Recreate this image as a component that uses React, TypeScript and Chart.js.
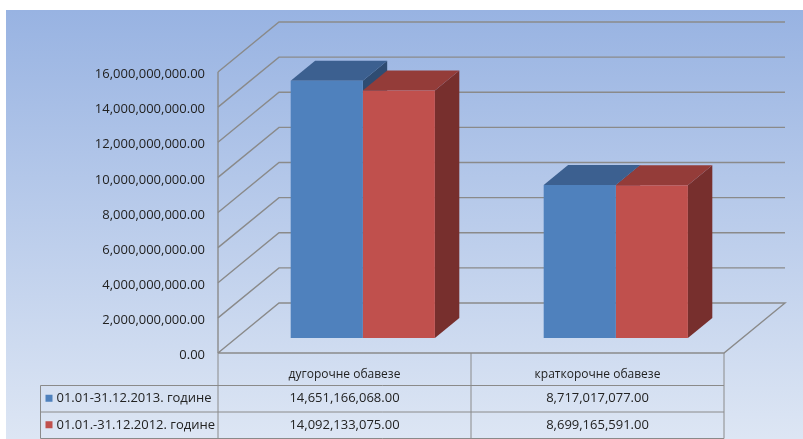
import { useEffect, useRef } from 'react';
import { Chart, registerables } from 'chart.js';

Chart.register(...registerables);

// ---- data ----
const categories = ['дугорочне обавезе', 'краткорочне обавезе'];
const seriesNames = ['01.01-31.12.2013. године', '01.01.-31.12.2012. године'];
const values2013 = [14651166068.0, 8717017077.0];
const values2012 = [14092133075.0, 8699165591.0];
const yMin = 0;
const yMax = 16000000000;
const yStep = 2000000000;

// ---- styles / geometry ----
const W = 803;
const H = 439;
const FRONT_COLORS = ['#4f81bd', '#c0504d'];
const TOP_COLORS = ['#3c6090', '#943c39'];
const SIDE_COLORS = ['#2f4c72', '#772f2d'];
const GRID = '#8a8a8a';
const TEXT = '#222222';
const FONT = '"Open Sans", sans-serif';
// wall depth, bars sit between 30% and 70% of depth
const WALL_DX = 61;
const WALL_DY = 50;
const FX = -0.3 * WALL_DX;
const FY = 0.3 * WALL_DY;
const BX = 0.7 * WALL_DX;
const BY = -0.7 * WALL_DY;
const BAR_DX = 0.4 * WALL_DX;
const BAR_DY = 0.4 * WALL_DY;

const fmt = (v: number) =>
  v.toLocaleString('en-US', { minimumFractionDigits: 2, maximumFractionDigits: 2 });

const excel3d = {
  id: 'excel3d',
  beforeDraw(chart: any) {
    const { ctx } = chart;
    ctx.save();
    ctx.fillStyle = '#ffffff';
    ctx.fillRect(0, 0, W, H);
    const g = ctx.createLinearGradient(0, 10, 0, H);
    g.addColorStop(0, '#98b3e2');
    g.addColorStop(1, '#dde6f4');
    ctx.fillStyle = g;
    ctx.fillRect(6, 10, W - 6, H - 10);
    ctx.restore();
  },
  beforeDatasetsDraw(chart: any) {
    const { ctx, chartArea: ca, scales } = chart;
    const ys = scales.y;
    const fl = ca.left + FX;
    const fr = ca.right + FX;
    const bl = ca.left + BX;
    const br = ca.right + BX;
    let tickVals: number[] = (ys.ticks || []).map((t: any) => t.value);
    if (!tickVals.length) {
      for (let v = yMin; v <= yMax; v += yStep) tickVals.push(v);
    }
    ctx.save();
    ctx.strokeStyle = GRID;
    ctx.lineWidth = 1.4;
    tickVals.forEach((v) => {
      const py = ys.getPixelForValue(v);
      ctx.beginPath();
      ctx.moveTo(fl, py + FY);
      ctx.lineTo(bl, py + BY);
      ctx.lineTo(br, py + BY);
      if (v === yMin) {
        ctx.lineTo(fr, py + FY);
        ctx.lineTo(fl, py + FY);
      }
      ctx.stroke();
    });
    // front-left vertical edge
    const topY = ys.getPixelForValue(yMax) + FY;
    const botY = ys.getPixelForValue(yMin) + FY;
    ctx.beginPath();
    ctx.moveTo(fl, topY);
    ctx.lineTo(fl, botY);
    ctx.stroke();

    // tick labels
    ctx.fillStyle = TEXT;
    ctx.font = `13px ${FONT}`;
    ctx.textAlign = 'right';
    ctx.textBaseline = 'middle';
    tickVals.forEach((v) => {
      const py = ys.getPixelForValue(v);
      ctx.fillText(fmt(v), fl - 13, py + FY + 2.5);
    });

    // bar sides and tops
    const n = chart.data.labels.length;
    for (let i = 0; i < n; i++) {
      chart.data.datasets.forEach((_: any, di: number) => {
        const el = chart.getDatasetMeta(di).data[i];
        if (!el) return;
        const { x, y, base, width } = el.getProps(['x', 'y', 'base', 'width'], true);
        const l = x - width / 2;
        const r = x + width / 2;
        // side
        ctx.fillStyle = SIDE_COLORS[di];
        ctx.beginPath();
        ctx.moveTo(r, y);
        ctx.lineTo(r + BAR_DX, y - BAR_DY);
        ctx.lineTo(r + BAR_DX, base - BAR_DY);
        ctx.lineTo(r, base);
        ctx.closePath();
        ctx.fill();
        // top
        ctx.fillStyle = TOP_COLORS[di];
        ctx.beginPath();
        ctx.moveTo(l, y);
        ctx.lineTo(r, y);
        ctx.lineTo(r + BAR_DX, y - BAR_DY);
        ctx.lineTo(l + BAR_DX, y - BAR_DY);
        ctx.closePath();
        ctx.fill();
      });
    }
    ctx.restore();
  },
  afterDraw(chart: any) {
    const { ctx, chartArea: ca, scales } = chart;
    const ys = scales.y;
    const fl = ca.left + FX;
    const catW = (ca.right - ca.left) / chart.data.labels.length;
    const cols = chart.data.labels.map((_: any, i: number) => fl + i * catW);
    const fr = fl + catW * chart.data.labels.length;
    const tableLeft = 40.5;
    const headTop = ys.getPixelForValue(yMin) + FY;
    const rowLines = [headTop + 32.5, headTop + 59, headTop + 85.5];
    ctx.save();
    ctx.strokeStyle = GRID;
    ctx.lineWidth = 1;
    // horizontal lines
    rowLines.forEach((ry) => {
      ctx.beginPath();
      ctx.moveTo(tableLeft, ry);
      ctx.lineTo(fr, ry);
      ctx.stroke();
    });
    // verticals
    [...cols, fr].forEach((cx: number) => {
      ctx.beginPath();
      ctx.moveTo(cx, headTop);
      ctx.lineTo(cx, rowLines[2]);
      ctx.stroke();
    });
    ctx.beginPath();
    ctx.moveTo(tableLeft, rowLines[0]);
    ctx.lineTo(tableLeft, rowLines[2]);
    ctx.stroke();

    ctx.fillStyle = TEXT;
    ctx.textBaseline = 'middle';
    ctx.textAlign = 'center';
    ctx.font = `12px ${FONT}`;
    chart.data.labels.forEach((lab: string, i: number) => {
      ctx.fillText(lab, cols[i] + catW / 2, headTop + 22);
    });
    ctx.font = `13px ${FONT}`;
    chart.data.datasets.forEach((ds: any, di: number) => {
      const top = di === 0 ? rowLines[0] : rowLines[1];
      const bot = di === 0 ? rowLines[1] : rowLines[2];
      const cy = (top + bot) / 2;
      ctx.fillStyle = FRONT_COLORS[di];
      ctx.fillRect(tableLeft + 5, cy - 4, 7, 7);
      ctx.fillStyle = TEXT;
      ctx.textAlign = 'left';
      ctx.fillText(ds.label, tableLeft + 16, cy);
      ctx.textAlign = 'center';
      ds.data.forEach((v: number, i: number) => {
        ctx.fillText(fmt(v), cols[i] + catW / 2, cy);
      });
    });
    ctx.restore();
  },
};

export default function App() {
  const ref = useRef<HTMLCanvasElement | null>(null);
  useEffect(() => {
    if (!ref.current) return;
    const chart = new Chart(ref.current, {
      type: 'bar',
      data: {
        labels: categories,
        datasets: [
          { label: seriesNames[0], data: values2013, backgroundColor: FRONT_COLORS[0] },
          { label: seriesNames[1], data: values2012, backgroundColor: FRONT_COLORS[1] },
        ],
      },
      options: {
        responsive: false,
        animation: false,
        events: [],
        layout: { padding: { left: 236.3, right: 60.7, top: 57, bottom: 101 } },
        datasets: { bar: { barPercentage: 1, categoryPercentage: 0.57 } },
        scales: {
          x: { type: 'category', display: false, offset: true },
          y: { type: 'linear', display: false, min: yMin, max: yMax, ticks: { stepSize: yStep } },
        },
        plugins: { legend: { display: false }, tooltip: { enabled: false } },
      },
      plugins: [excel3d],
    });
    return () => chart.destroy();
  }, []);
  return (
    <div style={{ position: 'fixed', left: 0, top: 0, width: W, height: H }}>
      <canvas ref={ref} width={W} height={H} style={{ display: 'block' }} />
    </div>
  );
}
